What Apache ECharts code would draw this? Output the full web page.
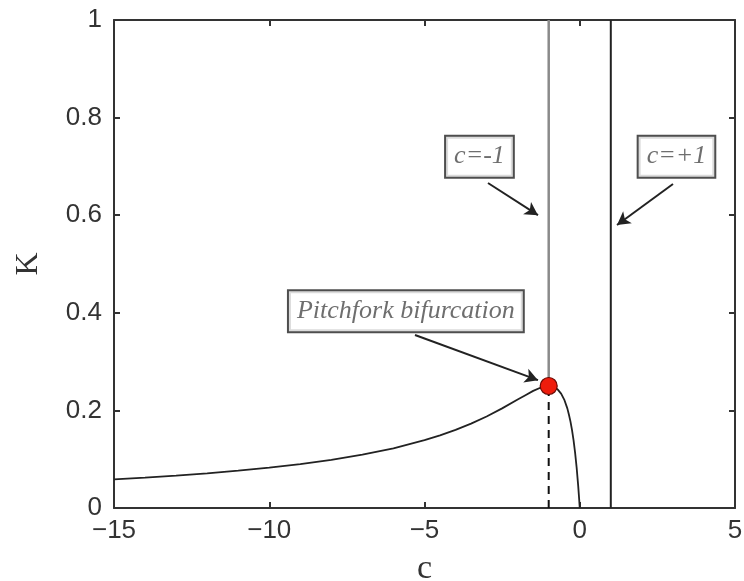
<!DOCTYPE html>
<html>
<head>
<meta charset="utf-8">
<script src="https://cdn.jsdelivr.net/npm/echarts@6/dist/echarts.min.js"></script>
<style>html,body{margin:0;padding:0;background:#fff}#c{width:744px;height:581px}</style>
</head>
<body>
<div id="c"></div>
<script>
// Curve K(c)
var curveC = [-15, -14, -13, -12, -11, -10, -9, -8, -7, -6, -5, -4.5, -4, -3.5, -3, -2.5, -2, -1.75, -1.5, -1.25, -1.1, -1, -0.9, -0.8, -0.7, -0.6, -0.5, -0.4, -0.35, -0.3, -0.25, -0.2, -0.15, -0.1, -0.05, -0.02, 0];
var curveK = [0.0586, 0.0622, 0.0663, 0.0710, 0.0764, 0.0826, 0.0900, 0.0988, 0.1094, 0.1224, 0.1389, 0.1488, 0.1600, 0.1728, 0.1875, 0.2041, 0.2222, 0.2311, 0.2400, 0.2469, 0.2494, 0.2500, 0.2493, 0.2469, 0.2422, 0.2344, 0.2222, 0.2041, 0.1917, 0.1775, 0.1600, 0.1389, 0.1134, 0.0826, 0.0454, 0.0192, 0];
// Bifurcation point
var bifC = [-1];
var bifK = [0.25];
// Vertical lines
var lineMinusC = [-1, -1];
var lineMinusK = [0.25, 1];
var dashC = [-1, -1];
var dashK = [0, 0.25];
var linePlusC = [1, 1];
var linePlusK = [0, 1];
// Tick labels
var xTicks = [-15, -10, -5, 0, 5];
var xTickLabels = ['\u221215', '\u221210', '\u22125', '0', '5'];
var yTicks = [0, 0.2, 0.4, 0.6, 0.8, 1];
var yTickLabels = ['0', '0.2', '0.4', '0.6', '0.8', '1'];
// Annotations
var annTexts = ['c=-1', 'c=+1', 'Pitchfork bifurcation'];
var annC = [-3.23, 3.115, -5.6];
var annK = [0.72, 0.72, 0.403];
var arrowFromC = [-2.955, 3.003, -5.306];
var arrowFromK = [0.666, 0.664, 0.3545];
var arrowToC = [-1.345, 1.2, -1.345];
var arrowToK = [0.6, 0.58, 0.262];

function zip(a, b) { return a.map(function (v, i) { return [v, b[i]]; }); }
function lbl(list, labels) { return function (v) { var i = list.findIndex(function (t) { return Math.abs(t - v) < 1e-9; }); return i >= 0 ? labels[i] : ''; }; }

var axisCol = '#333';
var tickFont = {fontFamily: 'Liberation Sans, Arial, sans-serif', fontSize: 26, color: '#333'};
function axLine() { return {onZero: false, lineStyle: {color: axisCol, width: 2}}; }
function axTick() { return {inside: true, length: 6, lineStyle: {color: axisCol, width: 2}}; }

var chart = echarts.init(document.getElementById('c'));
chart.setOption({
  backgroundColor: '#fff',
  animation: false,
  grid: {left: 114, top: 20, right: 9, bottom: 73, containLabel: false, outerBoundsMode: 'none'},
  xAxis: [{
    type: 'value', min: -15, max: 5, interval: 5, position: 'bottom',
    name: 'c', nameLocation: 'middle', nameGap: 44,
    nameTextStyle: {fontFamily: 'Liberation Serif, Times New Roman, serif', fontSize: 34, color: '#333'},
    axisLine: axLine(), axisTick: axTick(),
    axisLabel: Object.assign({margin: 10, formatter: lbl(xTicks, xTickLabels)}, tickFont),
    splitLine: {show: false}
  }, {
    type: 'value', min: -15, max: 5, interval: 5, position: 'top',
    axisLine: axLine(), axisTick: axTick(),
    axisLabel: {show: false}, splitLine: {show: false}
  }],
  yAxis: [{
    type: 'value', min: 0, max: 1, interval: 0.2, position: 'left',
    name: 'K', nameLocation: 'middle', nameGap: 69, nameRotate: 90,
    nameTextStyle: {fontFamily: 'Liberation Serif, Times New Roman, serif', fontSize: 32, color: '#333'},
    axisLine: axLine(), axisTick: axTick(),
    axisLabel: Object.assign({margin: 12, formatter: lbl(yTicks, yTickLabels)}, tickFont),
    splitLine: {show: false}
  }, {
    type: 'value', min: 0, max: 1, interval: 0.2, position: 'right',
    axisLine: axLine(), axisTick: axTick(),
    axisLabel: {show: false}, splitLine: {show: false}
  }],
  series: [
    {type: 'line', data: zip(lineMinusC, lineMinusK), symbol: 'none', lineStyle: {color: '#8a8a8a', width: 2.5}, z: 2},
    {type: 'line', data: zip(dashC, dashK), symbol: 'none', lineStyle: {color: '#111', width: 2, type: [8, 6]}, z: 2},
    {type: 'line', data: zip(linePlusC, linePlusK), symbol: 'none', lineStyle: {color: '#222', width: 2}, z: 2},
    {type: 'line', data: zip(curveC, curveK), symbol: 'none', smooth: false, lineStyle: {color: '#222', width: 1.8}, z: 3},
    {type: 'scatter', data: zip(bifC, bifK), symbol: 'circle', symbolSize: 17,
      itemStyle: {color: '#ee1c0c', borderColor: '#6a0a04', borderWidth: 1.2, opacity: 1}, z: 5},
    {type: 'scatter', data: zip(annC, annK).map(function (p, i) { return {value: p, name: annTexts[i]}; }),
      symbolSize: 0, z: 6, itemStyle: {color: 'transparent'},
      label: {show: true, position: 'inside', formatter: '{b}',
        fontFamily: 'Liberation Serif, Times New Roman, serif', fontStyle: 'italic', fontSize: 26, color: '#4a4a4a',
        textBorderWidth: 0, textShadowBlur: 0,
        backgroundColor: '#fff', borderColor: '#222', borderWidth: 2, padding: [8, 8, 6, 8]},
      markLine: {
        silent: true, symbol: ['none', 'arrow'], symbolSize: [11, 13],
        lineStyle: {color: '#222', width: 2, type: 'solid'}, label: {show: false},
        data: arrowFromC.map(function (c, i) {
          return [{coord: [c, arrowFromK[i]]}, {coord: [arrowToC[i], arrowToK[i]]}];
        })
      }
    }
  ]
});
</script>
</body>
</html>
